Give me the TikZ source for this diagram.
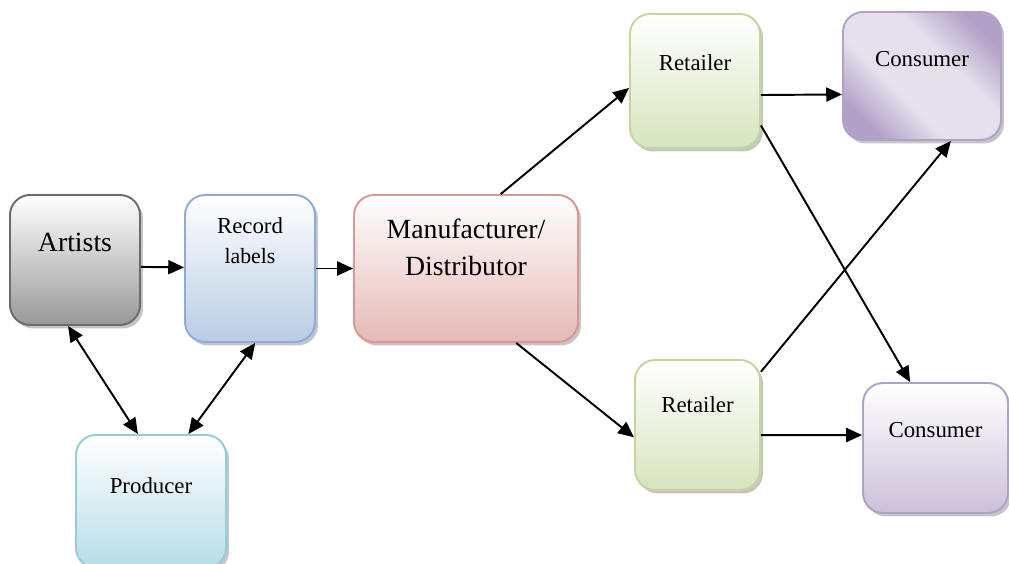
\documentclass[tikz,border=0pt]{standalone}
\usepackage{fontspec}
\setmainfont{Liberation Serif}
\usetikzlibrary{arrows.meta,shadows}
\definecolor{artline}{HTML}{6B6B6B}
\definecolor{artfill}{HTML}{989898}
\definecolor{recline}{HTML}{8EAADB}
\definecolor{recfill}{HTML}{B8CCE4}
\definecolor{manline}{HTML}{D99694}
\definecolor{manfill}{HTML}{E5B9B7}
\definecolor{proline}{HTML}{92CDDC}
\definecolor{profill}{HTML}{B7DDE8}
\definecolor{retline}{HTML}{C3D69B}
\definecolor{retfill}{HTML}{D7E4BD}
\definecolor{conline}{HTML}{B2A1C7}
\definecolor{condark}{HTML}{B1A0C7}
\definecolor{conlight}{HTML}{E5E0EC}
\definecolor{confill}{HTML}{CCC0DA}
\pgfdeclareverticalshading{conband}{100bp}{color(0bp)=(condark); color(24bp)=(condark);
	color(40bp)=(conlight); color(60bp)=(conlight); color(76bp)=(condark); color(100bp)=(condark)}
\begin{document}
\begin{tikzpicture}[x=0.02cm,y=-0.02cm]
	\useasboundingbox (0,0) rectangle (1009,564);
	\tikzstyle{box}=[rounded corners=0.4cm, line width=1.1pt, drop shadow={shadow xshift=0.06cm, shadow yshift=-0.07cm, fill=black!45}]
	\tikzstyle{big}=[font=\fontsize{15.8}{21}\selectfont, align=center]
	\tikzstyle{small}=[font=\fontsize{13}{16}\selectfont, align=center]
	\node[box, draw=artline, top color=white, bottom color=artfill, minimum width=2.6cm, minimum height=2.6cm,
		label={[big, yshift=0.36cm]center:Artists}] 	(art) at (75,260) {};
	\node[box, draw=recline, top color=white, bottom color=recfill, minimum width=2.6cm, minimum height=2.94cm,
		label={[small, yshift=0.56cm]center:Record\\[1pt]{\fontsize{12.4}{15}\selectfont labels}}] 	(rec) at (250,268.5) {};
	\node[box, draw=manline, top color=white, bottom color=manfill, minimum width=4.48cm, minimum height=2.94cm,
		label={[big, yshift=0.42cm]center:Manufacturer/\\Distributor}] 	(man) at (466,268.5) {};
	\node[box, draw=proline, top color=white, bottom color=profill, minimum width=3cm, minimum height=2.66cm,
		label={[small, yshift=0.32cm]center:Producer}] 	(pro) at (151,501.5) {};
	\node[box, draw=retline, top color=white, bottom color=retfill, minimum width=2.6cm, minimum height=2.68cm,
		label={[small, yshift=0.36cm]center:Retailer}] 	(ret1) at (695,81) {};
	\node[box, draw=retline, top color=white, bottom color=retfill, minimum width=2.5cm, minimum height=2.6cm,
		label={[small, yshift=0.4cm]center:Retailer}] 	(ret2) at (697.5,425) {};
	\node[box, draw=conline, shade, shading=conband, shading angle=-45,
		minimum width=3.16cm, minimum height=2.56cm,
		label={[small, yshift=0.34cm]center:Consumer}] 	(con1) at (922,76) {};
	\node[box, draw=conline, top color=white, bottom color=confill, minimum width=2.9cm, minimum height=2.6cm,
		label={[small, yshift=0.36cm]center:Consumer}] 	(con2) at (935.5,448) {};

	\begin{scope}[-{Triangle[length=9pt,width=8pt]}, line width=1.1pt]
		\draw	(art.354) -- (rec.179);
		\draw	(rec.east) -- (man.west);
		\draw[{Triangle[length=9pt,width=8pt]}-{Triangle[length=9pt,width=8pt]}]	(art.264) -- (pro.101);
		\draw[{Triangle[length=9pt,width=8pt]}-{Triangle[length=9pt,width=8pt]}]	(rec.274) -- (pro.61);
		\draw	(man.65) -- (ret1.186);
		\draw	(man.304) -- (ret2.191);
		\draw	(ret1.348) -- (con1.193.5);
		\draw	(ret1.326) -- (con2.111);
		\draw	(ret2.40) -- (con1.294);
		\draw	(ret2.351) -- (con2.170);
	\end{scope}
\end{tikzpicture}
\end{document}
